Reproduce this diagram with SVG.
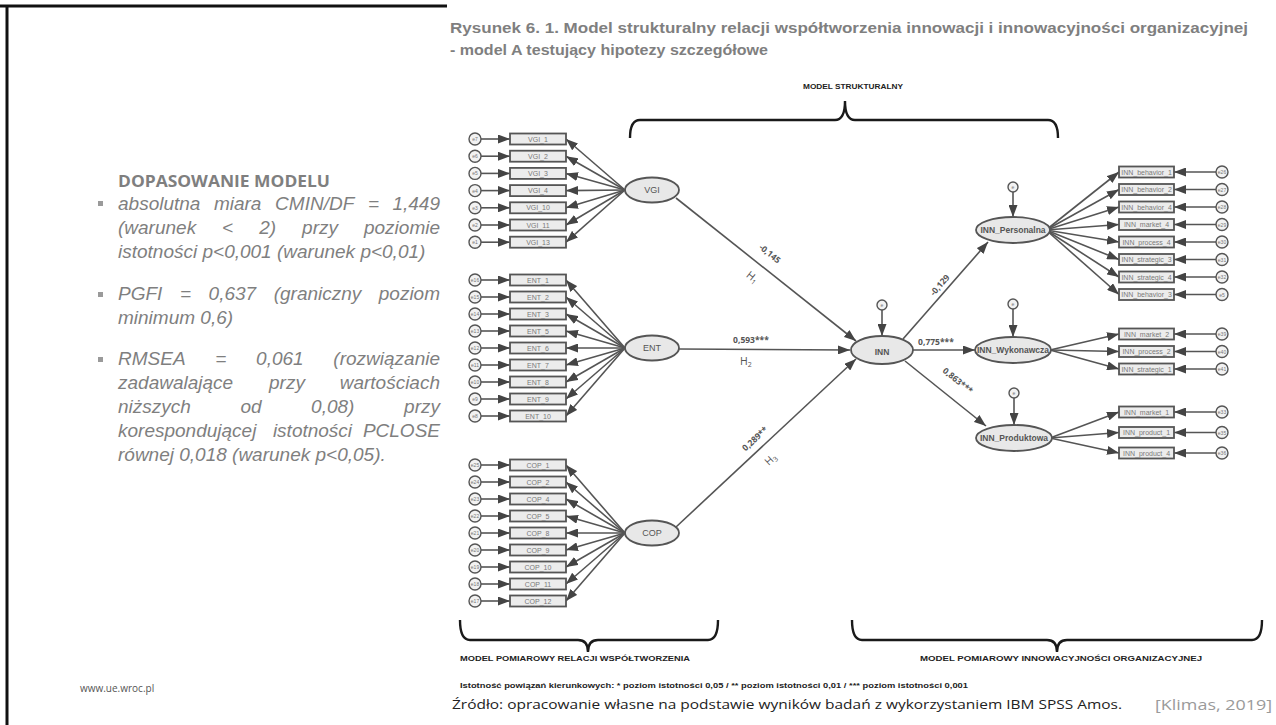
<svg xmlns="http://www.w3.org/2000/svg" width="1276" height="725" viewBox="0 0 1276 725">
  <style>
    .title { font-family: "Liberation Sans", Arial, sans-serif; font-weight: bold; font-size: 15px; fill: #7f7f7f; }
    .head { font-family: "Open Sans", "Liberation Sans", sans-serif; font-weight: bold; font-size: 16px; fill: #7f7f7f; }
    .body { font-family: "Liberation Sans", Arial, sans-serif; font-style: italic; font-size: 19px; fill: #7f7f7f; }
    .box { fill: #ececec; stroke: #555; stroke-width: 1.8; }
    .err { fill: #f2f2f2; stroke: #555; stroke-width: 1.4; }
    .lat { fill: #e8e8e8; stroke: #555; stroke-width: 1.8; }
    .ind { font-family: "Liberation Sans", Arial, sans-serif; font-size: 7px; fill: #7a7a7a; text-anchor: middle; }
    .el { font-family: "Liberation Sans", Arial, sans-serif; font-size: 5px; fill: #777; text-anchor: middle; }
    .latt { font-family: "Liberation Sans", Arial, sans-serif; font-size: 8.5px; font-weight: bold; fill: #555; text-anchor: middle; }
    .latn { font-family: "Liberation Sans", Arial, sans-serif; font-size: 9px; fill: #555; text-anchor: middle; }
    .coef { font-family: "Open Sans", "Liberation Sans", sans-serif; font-size: 8.5px; font-weight: bold; fill: #555; text-anchor: middle; }
    .hyp { font-family: "Open Sans", "Liberation Sans", sans-serif; font-size: 10.5px; fill: #555; text-anchor: middle; }
    .cap { font-family: "Liberation Sans", Arial, sans-serif; font-size: 7.5px; font-weight: bold; fill: #222; }
    .src { font-family: "Open Sans", "Liberation Sans", sans-serif; font-size: 13.5px; fill: #222; }
    .conn line { stroke: #555; stroke-width: 1.6; marker-end: url(#ah); }
    .brace { fill: none; stroke: #1a1a1a; stroke-width: 2.4; }
  </style>
  <defs>
    <marker id="ah" markerUnits="userSpaceOnUse" markerWidth="13" markerHeight="9" refX="12" refY="4.5" orient="auto">
      <path d="M0,0 L12,4.5 L0,9 z" fill="#444"/>
    </marker>
  </defs>

  <rect width="1276" height="725" fill="#ffffff"/>
  <!-- slide frame -->
  <path d="M0,6 H447 M7,6 V725" stroke="#111" stroke-width="3" fill="none"/>

  <!-- figure title -->
  <text class="title" x="450" y="33" textLength="798" lengthAdjust="spacingAndGlyphs">Rysunek 6. 1. Model strukturalny relacji współtworzenia innowacji i innowacyjności organizacyjnej</text>
  <text class="title" x="450" y="55" textLength="318" lengthAdjust="spacingAndGlyphs">- model A testujący hipotezy szczegółowe</text>

  <!-- model fit panel -->
  <g id="fit-panel">
    <text class="head" x="118" y="187" textLength="212" lengthAdjust="spacingAndGlyphs">DOPASOWANIE MODELU</text>
    <rect x="98" y="201" width="5" height="5" fill="#9a9a9a"/>
    <rect x="98" y="292" width="5" height="5" fill="#9a9a9a"/>
    <rect x="98" y="357" width="5" height="5" fill="#9a9a9a"/>
    <text class="body" y="210"><tspan x="118">absolutna</tspan><tspan x="213.9">miara</tspan><tspan x="275.1">CMIN/DF</tspan><tspan x="367.9">=</tspan><tspan x="440" text-anchor="end">1,449</tspan></text>
    <text class="body" y="234"><tspan x="118">(warunek</tspan><tspan x="222.1">&lt;</tspan><tspan x="259.2">2)</tspan><tspan x="302.1">przy</tspan><tspan x="440" text-anchor="end">poziomie</tspan></text>
    <text class="body" x="118" y="258">istotności p&lt;0,001 (warunek p&lt;0,01)</text>
    <text class="body" y="300"><tspan x="118">PGFI</tspan><tspan x="179.9">=</tspan><tspan x="208.6">0,637</tspan><tspan x="273.7">(graniczny</tspan><tspan x="440" text-anchor="end">poziom</tspan></text>
    <text class="body" x="118" y="324">minimum 0,6)</text>
    <text class="body" y="365"><tspan x="118">RMSEA</tspan><tspan x="215.3">=</tspan><tspan x="256.1">0,061</tspan><tspan x="440" text-anchor="end">(rozwiązanie</tspan></text>
    <text class="body" y="389"><tspan x="118">zadawalające</tspan><tspan x="269">przy</tspan><tspan x="440" text-anchor="end">wartościach</tspan></text>
    <text class="body" y="413"><tspan x="118">niższych</tspan><tspan x="240.4">od</tspan><tspan x="311.1">0,08)</tspan><tspan x="440" text-anchor="end">przy</tspan></text>
    <text class="body" y="437"><tspan x="118">korespondującej</tspan><tspan x="272.9">istotności</tspan><tspan x="440" text-anchor="end">PCLOSE</tspan></text>
    <text class="body" x="118" y="461">równej 0,018 (warunek p&lt;0,05).</text>
  </g>

  <!-- braces -->
  <g id="braces">
    <text class="cap" x="803" y="89" textLength="100" lengthAdjust="spacingAndGlyphs">MODEL STRUKTURALNY</text>
    <path class="brace" d="M630,138 Q630,120 640,120 L835,120 Q845,120 845,101 Q845,120 855,120 L1048,120 Q1058,120 1058,138"/>
    <path class="brace" d="M460,620 Q460,640 470,640 L578,640 Q588,640 588,652 Q588,640 598,640 L708,640 Q718,640 718,620"/>
    <path class="brace" d="M852,620 Q852,640 862,640 L1047,640 Q1057,640 1057,652 Q1057,640 1067,640 L1252,640 Q1262,640 1262,620"/>
    <text class="cap" x="460" y="661" textLength="230" lengthAdjust="spacingAndGlyphs">MODEL POMIAROWY RELACJI WSPÓŁTWORZENIA</text>
    <text class="cap" x="920" y="661" textLength="282" lengthAdjust="spacingAndGlyphs">MODEL POMIAROWY INNOWACYJNOŚCI ORGANIZACYJNEJ</text>
  </g>

  <!-- connectors -->
  <g id="connectors" class="conn">
    <!-- VGI indicators -->
    <line x1="481" y1="139" x2="510" y2="139"/><line x1="625" y1="190" x2="566" y2="139"/>
    <line x1="481" y1="156.2" x2="510" y2="156.2"/><line x1="625" y1="190" x2="566" y2="156.2"/>
    <line x1="481" y1="173.4" x2="510" y2="173.4"/><line x1="625" y1="190" x2="566" y2="173.4"/>
    <line x1="481" y1="190.6" x2="510" y2="190.6"/><line x1="625" y1="190" x2="566" y2="190.6"/>
    <line x1="481" y1="207.8" x2="510" y2="207.8"/><line x1="625" y1="190" x2="566" y2="207.8"/>
    <line x1="481" y1="225" x2="510" y2="225"/><line x1="625" y1="190" x2="566" y2="225"/>
    <line x1="481" y1="242.2" x2="510" y2="242.2"/><line x1="625" y1="190" x2="566" y2="242.2"/>
    <!-- ENT indicators -->
    <line x1="481" y1="280" x2="510" y2="280"/><line x1="625" y1="348" x2="566" y2="280"/>
    <line x1="481" y1="297" x2="510" y2="297"/><line x1="625" y1="348" x2="566" y2="297"/>
    <line x1="481" y1="314" x2="510" y2="314"/><line x1="625" y1="348" x2="566" y2="314"/>
    <line x1="481" y1="331" x2="510" y2="331"/><line x1="625" y1="348" x2="566" y2="331"/>
    <line x1="481" y1="348" x2="510" y2="348"/><line x1="625" y1="348" x2="566" y2="348"/>
    <line x1="481" y1="365" x2="510" y2="365"/><line x1="625" y1="348" x2="566" y2="365"/>
    <line x1="481" y1="382" x2="510" y2="382"/><line x1="625" y1="348" x2="566" y2="382"/>
    <line x1="481" y1="399" x2="510" y2="399"/><line x1="625" y1="348" x2="566" y2="399"/>
    <line x1="481" y1="416" x2="510" y2="416"/><line x1="625" y1="348" x2="566" y2="416"/>
    <!-- COP indicators -->
    <line x1="481" y1="465" x2="510" y2="465"/><line x1="625" y1="533" x2="566" y2="465"/>
    <line x1="481" y1="482" x2="510" y2="482"/><line x1="625" y1="533" x2="566" y2="482"/>
    <line x1="481" y1="499" x2="510" y2="499"/><line x1="625" y1="533" x2="566" y2="499"/>
    <line x1="481" y1="516" x2="510" y2="516"/><line x1="625" y1="533" x2="566" y2="516"/>
    <line x1="481" y1="533" x2="510" y2="533"/><line x1="625" y1="533" x2="566" y2="533"/>
    <line x1="481" y1="550" x2="510" y2="550"/><line x1="625" y1="533" x2="566" y2="550"/>
    <line x1="481" y1="567" x2="510" y2="567"/><line x1="625" y1="533" x2="566" y2="567"/>
    <line x1="481" y1="584" x2="510" y2="584"/><line x1="625" y1="533" x2="566" y2="584"/>
    <line x1="481" y1="601" x2="510" y2="601"/><line x1="625" y1="533" x2="566" y2="601"/>
    <!-- structural paths -->
    <line x1="676" y1="198" x2="856" y2="341"/>
    <line x1="678" y1="349" x2="850" y2="350"/>
    <line x1="676" y1="527" x2="856" y2="359"/>
    <line x1="903" y1="339" x2="988" y2="242"/>
    <line x1="913" y1="350" x2="975" y2="350"/>
    <line x1="905" y1="361" x2="986" y2="426"/>
    <!-- disturbances -->
    <line x1="882" y1="310" x2="882" y2="336"/>
    <line x1="1013" y1="192" x2="1013" y2="217"/>
    <line x1="1013" y1="309" x2="1013" y2="337"/>
    <line x1="1014" y1="398" x2="1014" y2="425"/>
    <!-- INN_Personalna indicators -->
    <line x1="1046" y1="230" x2="1119" y2="172"/><line x1="1216" y1="172" x2="1174" y2="172"/>
    <line x1="1046" y1="230" x2="1119" y2="189.5"/><line x1="1216" y1="189.5" x2="1174" y2="189.5"/>
    <line x1="1046" y1="230" x2="1119" y2="207"/><line x1="1216" y1="207" x2="1174" y2="207"/>
    <line x1="1046" y1="230" x2="1119" y2="224.5"/><line x1="1216" y1="224.5" x2="1174" y2="224.5"/>
    <line x1="1046" y1="230" x2="1119" y2="242"/><line x1="1216" y1="242" x2="1174" y2="242"/>
    <line x1="1046" y1="230" x2="1119" y2="259.5"/><line x1="1216" y1="259.5" x2="1174" y2="259.5"/>
    <line x1="1046" y1="230" x2="1119" y2="277"/><line x1="1216" y1="277" x2="1174" y2="277"/>
    <line x1="1046" y1="230" x2="1119" y2="294.5"/><line x1="1216" y1="294.5" x2="1174" y2="294.5"/>
    <!-- INN_Wykonawcza indicators -->
    <line x1="1050" y1="350" x2="1119" y2="334"/><line x1="1216" y1="334" x2="1174" y2="334"/>
    <line x1="1050" y1="350" x2="1119" y2="351.5"/><line x1="1216" y1="351.5" x2="1174" y2="351.5"/>
    <line x1="1050" y1="350" x2="1119" y2="369"/><line x1="1216" y1="369" x2="1174" y2="369"/>
    <!-- INN_Produktowa indicators -->
    <line x1="1050" y1="438" x2="1119" y2="412"/><line x1="1216" y1="412" x2="1174" y2="412"/>
    <line x1="1050" y1="438" x2="1119" y2="432.5"/><line x1="1216" y1="432.5" x2="1174" y2="432.5"/>
    <line x1="1050" y1="438" x2="1119" y2="453"/><line x1="1216" y1="453" x2="1174" y2="453"/>
  </g>

  <!-- path coefficients and hypotheses -->
  <g id="path-labels">
    <text class="coef" transform="translate(768,256) rotate(39)">-0,145</text>
    <text class="hyp" transform="translate(750,280) rotate(39)">H<tspan font-size="7" dy="2">1</tspan></text>
    <text class="coef" x="751" y="343">0,593***</text>
    <text class="hyp" x="746" y="365">H<tspan font-size="7" dy="2">2</tspan></text>
    <text class="coef" transform="translate(757,441) rotate(-43)">0,289**</text>
    <text class="hyp" transform="translate(773,462) rotate(-43)">H<tspan font-size="7" dy="2">3</tspan></text>
    <text class="coef" transform="translate(942,287) rotate(-49)">-0,129</text>
    <text class="coef" x="936" y="345">0,775***</text>
    <text class="coef" transform="translate(956,383) rotate(39)">0,863***</text>
  </g>

  <!-- VGI block -->
  <g id="VGI">
    <ellipse class="lat" cx="652" cy="190" rx="27" ry="12.5"/>
    <text class="latn" x="652" y="193">VGI</text>
  </g>
  <g id="VGI-indicators">
    <rect class="box" x="510" y="133.5" width="56" height="11"/><text class="ind" x="538" y="141.5">VGI_1</text>
    <rect class="box" x="510" y="150.7" width="56" height="11"/><text class="ind" x="538" y="158.7">VGI_2</text>
    <rect class="box" x="510" y="167.9" width="56" height="11"/><text class="ind" x="538" y="175.9">VGI_3</text>
    <rect class="box" x="510" y="185.1" width="56" height="11"/><text class="ind" x="538" y="193.1">VGI_4</text>
    <rect class="box" x="510" y="202.3" width="56" height="11"/><text class="ind" x="538" y="210.3">VGI_10</text>
    <rect class="box" x="510" y="219.5" width="56" height="11"/><text class="ind" x="538" y="227.5">VGI_11</text>
    <rect class="box" x="510" y="236.7" width="56" height="11"/><text class="ind" x="538" y="244.7">VGI_13</text>
    <circle class="err" cx="475" cy="139" r="6"/><text class="el" x="475" y="141">e7</text>
    <circle class="err" cx="475" cy="156.2" r="6"/><text class="el" x="475" y="158.2">e6</text>
    <circle class="err" cx="475" cy="173.4" r="6"/><text class="el" x="475" y="175.4">e5</text>
    <circle class="err" cx="475" cy="190.6" r="6"/><text class="el" x="475" y="192.6">e4</text>
    <circle class="err" cx="475" cy="207.8" r="6"/><text class="el" x="475" y="209.8">e3</text>
    <circle class="err" cx="475" cy="225" r="6"/><text class="el" x="475" y="227">e2</text>
    <circle class="err" cx="475" cy="242.2" r="6"/><text class="el" x="475" y="244.2">e1</text>
  </g>

  <!-- ENT block -->
  <g id="ENT">
    <ellipse class="lat" cx="652" cy="348" rx="27" ry="12.5"/>
    <text class="latn" x="652" y="351">ENT</text>
  </g>
  <g id="ENT-indicators">
    <rect class="box" x="510" y="274.5" width="56" height="11"/><text class="ind" x="538" y="282.5">ENT_1</text>
    <rect class="box" x="510" y="291.5" width="56" height="11"/><text class="ind" x="538" y="299.5">ENT_2</text>
    <rect class="box" x="510" y="308.5" width="56" height="11"/><text class="ind" x="538" y="316.5">ENT_3</text>
    <rect class="box" x="510" y="325.5" width="56" height="11"/><text class="ind" x="538" y="333.5">ENT_5</text>
    <rect class="box" x="510" y="342.5" width="56" height="11"/><text class="ind" x="538" y="350.5">ENT_6</text>
    <rect class="box" x="510" y="359.5" width="56" height="11"/><text class="ind" x="538" y="367.5">ENT_7</text>
    <rect class="box" x="510" y="376.5" width="56" height="11"/><text class="ind" x="538" y="384.5">ENT_8</text>
    <rect class="box" x="510" y="393.5" width="56" height="11"/><text class="ind" x="538" y="401.5">ENT_9</text>
    <rect class="box" x="510" y="410.5" width="56" height="11"/><text class="ind" x="538" y="418.5">ENT_10</text>
    <circle class="err" cx="475" cy="280" r="6"/><text class="el" x="475" y="282">e16</text>
    <circle class="err" cx="475" cy="297" r="6"/><text class="el" x="475" y="299">e15</text>
    <circle class="err" cx="475" cy="314" r="6"/><text class="el" x="475" y="316">e14</text>
    <circle class="err" cx="475" cy="331" r="6"/><text class="el" x="475" y="333">e13</text>
    <circle class="err" cx="475" cy="348" r="6"/><text class="el" x="475" y="350">e12</text>
    <circle class="err" cx="475" cy="365" r="6"/><text class="el" x="475" y="367">e11</text>
    <circle class="err" cx="475" cy="382" r="6"/><text class="el" x="475" y="384">e10</text>
    <circle class="err" cx="475" cy="399" r="6"/><text class="el" x="475" y="401">e9</text>
    <circle class="err" cx="475" cy="416" r="6"/><text class="el" x="475" y="418">e8</text>
  </g>

  <!-- COP block -->
  <g id="COP">
    <ellipse class="lat" cx="652" cy="533" rx="27" ry="12.5"/>
    <text class="latn" x="652" y="536">COP</text>
  </g>
  <g id="COP-indicators">
    <rect class="box" x="510" y="459.5" width="56" height="11"/><text class="ind" x="538" y="467.5">COP_1</text>
    <rect class="box" x="510" y="476.5" width="56" height="11"/><text class="ind" x="538" y="484.5">COP_2</text>
    <rect class="box" x="510" y="493.5" width="56" height="11"/><text class="ind" x="538" y="501.5">COP_4</text>
    <rect class="box" x="510" y="510.5" width="56" height="11"/><text class="ind" x="538" y="518.5">COP_5</text>
    <rect class="box" x="510" y="527.5" width="56" height="11"/><text class="ind" x="538" y="535.5">COP_8</text>
    <rect class="box" x="510" y="544.5" width="56" height="11"/><text class="ind" x="538" y="552.5">COP_9</text>
    <rect class="box" x="510" y="561.5" width="56" height="11"/><text class="ind" x="538" y="569.5">COP_10</text>
    <rect class="box" x="510" y="578.5" width="56" height="11"/><text class="ind" x="538" y="586.5">COP_11</text>
    <rect class="box" x="510" y="595.5" width="56" height="11"/><text class="ind" x="538" y="603.5">COP_12</text>
    <circle class="err" cx="475" cy="465" r="6"/><text class="el" x="475" y="467">e25</text>
    <circle class="err" cx="475" cy="482" r="6"/><text class="el" x="475" y="484">e24</text>
    <circle class="err" cx="475" cy="499" r="6"/><text class="el" x="475" y="501">e23</text>
    <circle class="err" cx="475" cy="516" r="6"/><text class="el" x="475" y="518">e22</text>
    <circle class="err" cx="475" cy="533" r="6"/><text class="el" x="475" y="535">e21</text>
    <circle class="err" cx="475" cy="550" r="6"/><text class="el" x="475" y="552">e20</text>
    <circle class="err" cx="475" cy="567" r="6"/><text class="el" x="475" y="569">e19</text>
    <circle class="err" cx="475" cy="584" r="6"/><text class="el" x="475" y="586">e18</text>
    <circle class="err" cx="475" cy="601" r="6"/><text class="el" x="475" y="603">e17</text>
  </g>

  <!-- INN -->
  <g id="INN">
    <ellipse class="lat" cx="882" cy="350" rx="31" ry="14"/>
    <text class="latt" x="882" y="355" font-size="12.5">INN</text>
    <circle class="err" cx="882" cy="305" r="5"/><text class="el" x="882" y="307">e</text>
  </g>

  <!-- INN_Personalna -->
  <g id="INN_Personalna">
    <ellipse class="lat" cx="1013" cy="230" rx="37" ry="13"/>
    <text class="latt" x="1013" y="233">INN_Personalna</text>
    <circle class="err" cx="1013" cy="187" r="5"/><text class="el" x="1013" y="189">e</text>
  </g>
  <g id="INN_Personalna-indicators">
    <rect class="box" x="1119" y="166.5" width="55" height="11"/><text class="ind" x="1146.5" y="174.5">INN_behavior_1</text>
    <rect class="box" x="1119" y="184" width="55" height="11"/><text class="ind" x="1146.5" y="192">INN_behavior_2</text>
    <rect class="box" x="1119" y="201.5" width="55" height="11"/><text class="ind" x="1146.5" y="209.5">INN_behavior_4</text>
    <rect class="box" x="1119" y="219" width="55" height="11"/><text class="ind" x="1146.5" y="227">INN_market_4</text>
    <rect class="box" x="1119" y="236.5" width="55" height="11"/><text class="ind" x="1146.5" y="244.5">INN_process_4</text>
    <rect class="box" x="1119" y="254" width="55" height="11"/><text class="ind" x="1146.5" y="262">INN_strategic_3</text>
    <rect class="box" x="1119" y="271.5" width="55" height="11"/><text class="ind" x="1146.5" y="279.5">INN_strategic_4</text>
    <rect class="box" x="1119" y="289" width="55" height="11"/><text class="ind" x="1146.5" y="297">INN_behavior_3</text>
    <circle class="err" cx="1222" cy="172" r="6"/><text class="el" x="1222" y="174">e26</text>
    <circle class="err" cx="1222" cy="189.5" r="6"/><text class="el" x="1222" y="191.5">e27</text>
    <circle class="err" cx="1222" cy="207" r="6"/><text class="el" x="1222" y="209">e28</text>
    <circle class="err" cx="1222" cy="224.5" r="6"/><text class="el" x="1222" y="226.5">e29</text>
    <circle class="err" cx="1222" cy="242" r="6"/><text class="el" x="1222" y="244">e30</text>
    <circle class="err" cx="1222" cy="259.5" r="6"/><text class="el" x="1222" y="261.5">e31</text>
    <circle class="err" cx="1222" cy="277" r="6"/><text class="el" x="1222" y="279">e32</text>
    <circle class="err" cx="1222" cy="294.5" r="6"/><text class="el" x="1222" y="296.5">e5</text>
  </g>

  <!-- INN_Wykonawcza -->
  <g id="INN_Wykonawcza">
    <ellipse class="lat" cx="1013" cy="350" rx="38" ry="13"/>
    <text class="latt" x="1013" y="353">INN_Wykonawcza</text>
    <circle class="err" cx="1013" cy="304" r="5"/><text class="el" x="1013" y="306">e</text>
  </g>
  <g id="INN_Wykonawcza-indicators">
    <rect class="box" x="1119" y="328.5" width="55" height="11"/><text class="ind" x="1146.5" y="336.5">INN_market_2</text>
    <rect class="box" x="1119" y="346" width="55" height="11"/><text class="ind" x="1146.5" y="354">INN_process_2</text>
    <rect class="box" x="1119" y="363.5" width="55" height="11"/><text class="ind" x="1146.5" y="371.5">INN_strategic_1</text>
    <circle class="err" cx="1222" cy="334" r="6"/><text class="el" x="1222" y="336">e39</text>
    <circle class="err" cx="1222" cy="351.5" r="6"/><text class="el" x="1222" y="353.5">e40</text>
    <circle class="err" cx="1222" cy="369" r="6"/><text class="el" x="1222" y="371">e41</text>
  </g>

  <!-- INN_Produktowa -->
  <g id="INN_Produktowa">
    <ellipse class="lat" cx="1014" cy="438" rx="38" ry="13"/>
    <text class="latt" x="1014" y="441">INN_Produktowa</text>
    <circle class="err" cx="1014" cy="393" r="5"/><text class="el" x="1014" y="395">e</text>
  </g>
  <g id="INN_Produktowa-indicators">
    <rect class="box" x="1119" y="406.5" width="55" height="11"/><text class="ind" x="1146.5" y="414.5">INN_market_1</text>
    <rect class="box" x="1119" y="427" width="55" height="11"/><text class="ind" x="1146.5" y="435">INN_product_1</text>
    <rect class="box" x="1119" y="447.5" width="55" height="11"/><text class="ind" x="1146.5" y="455.5">INN_product_4</text>
    <circle class="err" cx="1222" cy="412" r="6"/><text class="el" x="1222" y="414">e33</text>
    <circle class="err" cx="1222" cy="432.5" r="6"/><text class="el" x="1222" y="434.5">e35</text>
    <circle class="err" cx="1222" cy="453" r="6"/><text class="el" x="1222" y="455">e36</text>
  </g>

  <!-- notes and source -->
  <text class="cap" x="460" y="688" textLength="508" lengthAdjust="spacingAndGlyphs">Istotność powiązań kierunkowych:  * poziom istotności 0,05 /  ** poziom istotności 0,01 /  *** poziom istotności 0,001</text>
  <text class="src" x="452" y="709" textLength="670" lengthAdjust="spacingAndGlyphs">Źródło: opracowanie własne na podstawie wyników badań z wykorzystaniem IBM SPSS Amos.</text>
  <text x="1155" y="710" font-family="Open Sans, Liberation Sans, sans-serif" font-size="15" fill="#9a9a9a" textLength="117" lengthAdjust="spacingAndGlyphs">[Klimas, 2019]</text>
  <text x="80" y="692" font-family="Open Sans, Liberation Sans, sans-serif" font-size="10" fill="#555">www.ue.wroc.pl</text>
</svg>
